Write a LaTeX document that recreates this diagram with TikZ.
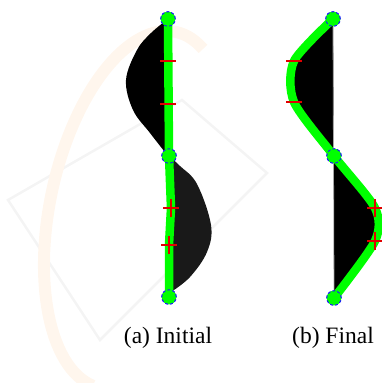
\documentclass[tikz,border=0pt]{standalone}
\usepackage{fontspec}
\setmainfont{Liberation Serif}
\usetikzlibrary{arrows.meta, positioning}
\definecolor{curvegreen}{RGB}{0,255,0}
\definecolor{ptblue}{RGB}{25,25,255}
\definecolor{markred}{RGB}{225,0,0}

\begin{document}
\begin{tikzpicture}[
			x=1pt, y=-1pt,
			ctrl/.style={circle, draw=ptblue, densely dashed, line width=0.9pt, fill=curvegreen, minimum size=14.5pt, inner sep=0pt},
			greenline/.style={draw=curvegreen, line width=8.5pt, line join=round, line cap=round},
			markline/.style={draw=markred, line width=1.3pt},
			caption/.style={anchor=base, font=\fontsize{23.5pt}{28pt}\selectfont},
			watermark/.style={line width=2.5pt, draw=gray!9}
			]
			\useasboundingbox (0,0) rectangle (382,383);
			
			% Faint background mark
			\draw[watermark] (8,200) -- (182,100) -- (267,173) -- (100,340) -- cycle;
			\begin{scope}[shift={(138,210)}, rotate=-12]
				\draw[line width=12pt, draw=orange!7] (-70:88 and 182) arc[start angle=-70, end angle=-265, x radius=88, y radius=182];
			\end{scope}
			
			% Control points, initial (left) and final (right)
			\node[ctrl] (a0) at (168,19) {};
			\node[ctrl] (a1) at (169,156) {};
			\node[ctrl] (a2) at (169,297) {};
			\node[ctrl] (b0) at (333,19) {};
			\node[ctrl] (b1) at (334,156) {};
			\node[ctrl] (b2) at (334,298) {};
			
			% Inner points (red marks)
			\coordinate (at1) at (168,61);
			\coordinate (at2) at (168,104);
			\coordinate (ap1) at (171,208);
			\coordinate (ap2) at (169,245);
			\coordinate (bt1) at (294,61);
			\coordinate (bt2) at (294,102);
			\coordinate (bp1) at (375,208);
			\coordinate (bp2) at (375,241);
			
			% Target shape
			\fill[black] plot[smooth, tension=0.6] coordinates {(168,19) (151,33) (137,50) (126,80) (133,110) (150,133) (168,156)} -- cycle;
			\fill[black!90] plot[smooth, tension=0.6] coordinates {(169,156) (180,166) (197,184) (211,225) (207,252) (190,277) (171,292)} -- cycle;
			\fill[black] plot[smooth, tension=0.45] coordinates {(b0) (bt1) (bt2) (b1)} -- cycle;
			\fill[black] plot[smooth, tension=0.45] coordinates {(b1) (bp1) (bp2) (b2)} -- cycle;
			\draw[gray!70, line width=0.8pt] (b0) -- (b2);
			
			% Curves
			\draw[greenline] (a0.center) -- (a1.center) -- (ap1) -- (ap2) -- (a2.center);
			\draw[greenline] plot[smooth, tension=0.45] coordinates {(b0) (bt1) (bt2) (b1) (bp1) (bp2) (b2)};
			
			% Marks
			\foreach \p in {at1, at2, bt1, bt2}
				\draw[markline] ([xshift=-8pt]\p) -- ([xshift=8pt]\p);
			\foreach \p in {ap1, ap2, bp1, bp2} {
				\draw[markline] ([xshift=-8pt]\p) -- ([xshift=8pt]\p);
				\draw[markline] ([yshift=-9pt]\p) -- ([yshift=9pt]\p);
			}
			
			% Redraw points on top
			\foreach \n in {a0, a1, a2, b0, b1, b2}
				\node[ctrl] at (\n) {};
			
			% Captions
			\node[caption] (capa) at (168,343) {(a) Initial};
			\node[caption] (capb) at (333,343) {(b) Final};
			
		\end{tikzpicture}
\end{document}
